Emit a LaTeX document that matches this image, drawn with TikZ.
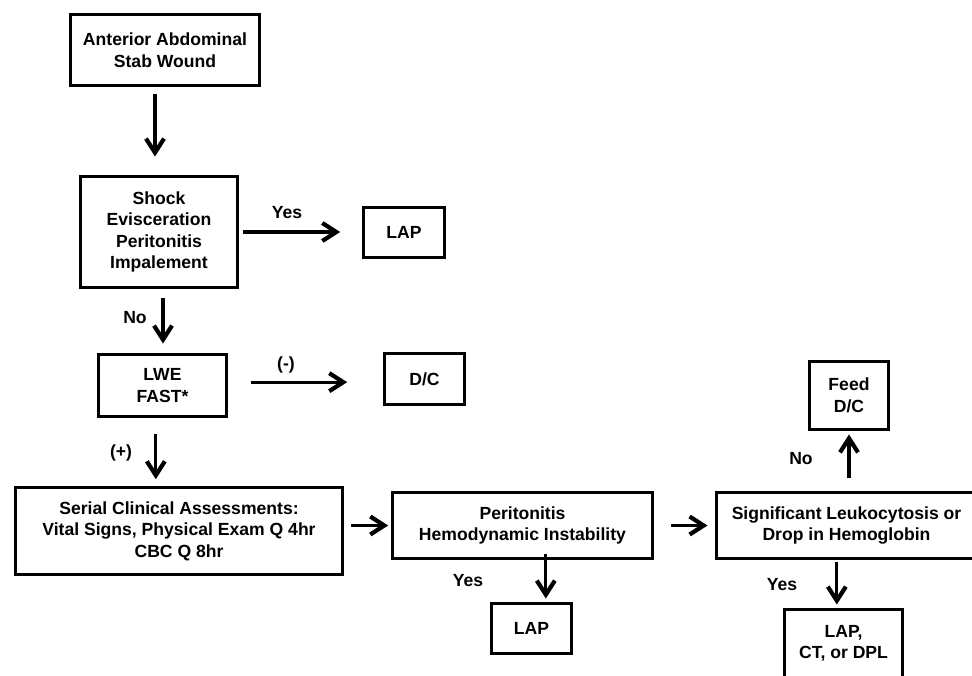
\documentclass[tikz,border=0pt]{standalone}
\usepackage{fontspec}
\setmainfont{Liberation Sans}
\usetikzlibrary{arrows.meta}
\tikzset{
  box/.style={draw, line width=2.8pt, align=center, inner sep=0pt,
    font=\fontsize{15}{18.4}\selectfont\bfseries},
  lbl/.style={font=\fontsize{15}{18.4}\selectfont\bfseries},
  arr/.style={line width=2.8pt, -{Straight Barb[length=4.2mm,width=5.4mm,line width=3.6pt]}}
}

\begin{document}
\begin{tikzpicture}[x=0.03cm,y=-0.03cm]
      \useasboundingbox (0,0) rectangle (972,676);
      % boxes
      \node[box, minimum width=5.67cm, minimum height=2.13cm] (wound) at (165,50) {Anterior Abdominal\\Stab Wound};
      \node[box, minimum width=4.71cm, minimum height=3.33cm] (shock) at (159,232) {Shock\\Evisceration\\Peritonitis\\Impalement};
      \node[box, minimum width=2.43cm, minimum height=1.5cm] (lapa) at (404,232.5) {LAP};
      \node[box, minimum width=3.84cm, minimum height=1.86cm] (lwe) at (162.5,385.5) {LWE\\FAST*};
      \node[box, minimum width=2.4cm, minimum height=1.53cm] (dca) at (424.5,379) {D/C};
      \node[box, minimum width=9.81cm, minimum height=2.61cm] (serial) at (179,531) {Serial Clinical Assessments:\\Vital Signs, Physical Exam Q 4hr\\CBC Q 8hr};
      \node[box, minimum width=7.8cm, minimum height=1.98cm] (peri) at (522.5,525.5) {Peritonitis\\Hemodynamic Instability};
      \node[box, minimum width=2.4cm, minimum height=1.5cm] (lapb) at (531.5,628.5) {LAP};
      \node[box, minimum width=7.8cm, minimum height=1.98cm] (sig) at (846.5,525.5) {Significant Leukocytosis or\\Drop in Hemoglobin};
      \node[box, minimum width=2.37cm, minimum height=2.04cm] (feed) at (849,395.5) {Feed\\D/C};
      \node[box, minimum width=3.54cm, minimum height=2.04cm] (lapct) at (843.5,643.5) {LAP,\\CT, or DPL};
      % labels
      \node[lbl] (yesa) at (287,213) {Yes};
      \node[lbl] (noa) at (135,318) {No};
      \node[lbl] (neg) at (286,365) {(-)};
      \node[lbl] (pos) at (121,453) {(+)};
      \node[lbl] (yesb) at (468,581) {Yes};
      \node[lbl] (nob) at (801,459) {No};
      \node[lbl] (yesc) at (782,585) {Yes};
      % arrows
      \draw[arr, shorten <=0.2cm, shorten >=0.55cm] ([xshift=-0.3cm]wound.south) -- ([xshift=-0.3cm]wound.south |- shock.north);
      \draw[arr, shorten <=0.13cm, shorten >=0.65cm] (shock.east) -- (shock.east -| lapa.west);
      \draw[arr, shorten <=0.28cm, shorten >=0.28cm] ([xshift=0.12cm]shock.south) -- ([xshift=0.12cm]shock.south |- lwe.north);
      \draw[arr, shorten <=0.68cm, shorten >=1.07cm] ([yshift=0.1cm]lwe.east) -- ([yshift=0.1cm]lwe.east -| dca.west);
      \draw[arr, shorten <=0.47cm, shorten >=0.2cm] ([xshift=-0.2cm]lwe.south) -- ([xshift=-0.2cm]lwe.south |- serial.north);
      \draw[arr, shorten <=0.22cm, shorten >=0.08cm] (serial.east |- peri.west) -- (peri.west);
      \draw[arr, shorten <=-0.17cm, shorten >=0.1cm] ([xshift=0.7cm]peri.south) -- ([xshift=0.7cm]peri.south |- lapb.north);
      \draw[arr, shorten <=0.5cm, shorten >=0.22cm] (peri.east) -- (peri.east -| sig.west);
      \draw[arr, shorten <=0.38cm, shorten >=0.1cm] (feed.south |- sig.north) -- (feed.south);
      \draw[arr, shorten <=0.05cm, shorten >=0.1cm] ([xshift=-0.2cm]lapct.north |- sig.south) -- ([xshift=-0.2cm]lapct.north);
\end{tikzpicture}
\end{document}
